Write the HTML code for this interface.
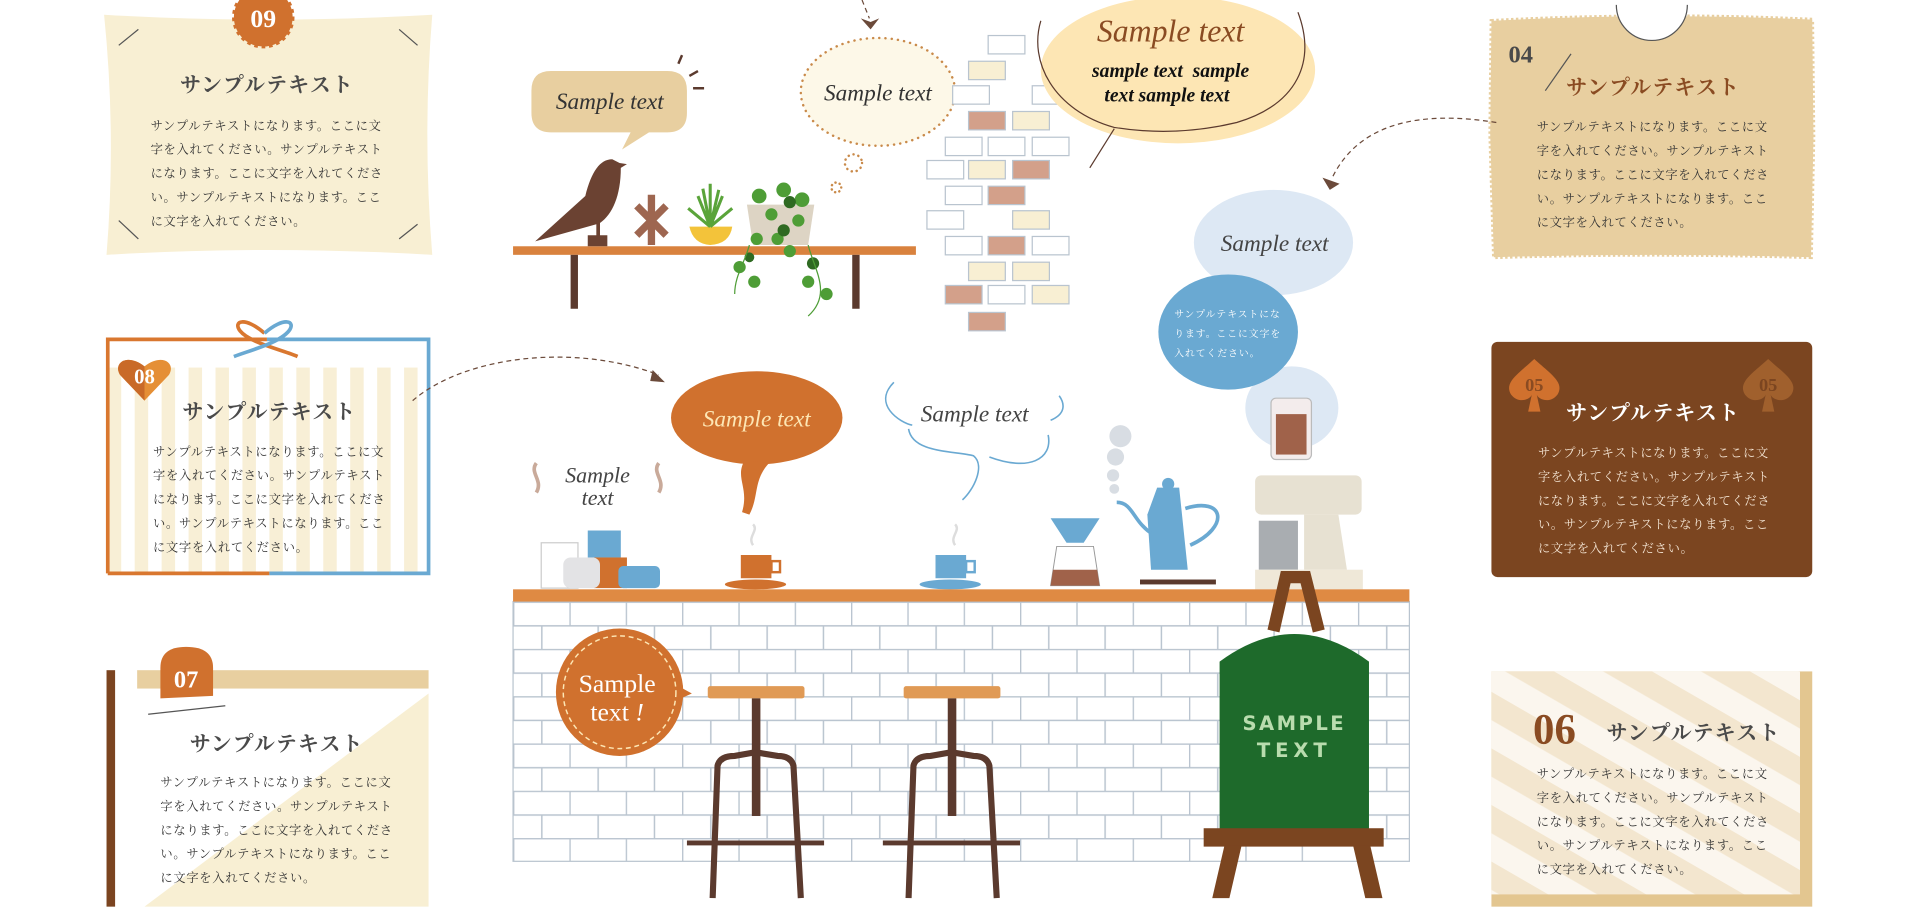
<!DOCTYPE html>
<html><head><meta charset="utf-8"><style>
html,body{margin:0;padding:0;background:#fff;width:1920px;height:914px;overflow:hidden}
svg{display:block}
.jp{font-family:"Liberation Serif","Noto Serif CJK SC","Noto Sans CJK JP",serif}
.it{font-family:"Liberation Serif",serif;font-style:italic}
</style></head><body>
<svg width="1920" height="914" viewBox="0 0 1568 746" preserveAspectRatio="none" xmlns="http://www.w3.org/2000/svg">
<defs>
<pattern id="brk" x="419" y="491" width="46" height="38.6" patternUnits="userSpaceOnUse">
<rect width="46" height="38.6" fill="#fff"/>
<path d="M0 0.5H46M0 19.8H46M0.5 0V19.3M23.5 19.3V38.6" stroke="#b9c4cf" stroke-width="1.2" fill="none"/>
</pattern>
<pattern id="str8" x="0" y="0" width="22" height="10" patternUnits="userSpaceOnUse">
<rect width="11" height="10" fill="#f8efd6"/>
</pattern>
<pattern id="diag" width="40" height="40" patternUnits="userSpaceOnUse" patternTransform="rotate(-60)">
<rect width="40" height="40" fill="#f3e6cf"/><rect width="20" height="40" fill="#fbf6ee"/>
</pattern>
</defs>

<!-- BOX 09 -->
<path d="M85 12 Q218 20 353 12 Q345 110 353 208 Q218 200 87 208 Q95 110 85 12Z" fill="#f8efd3"/>
<path d="M97 37L113 24M326 24L341 37M97 180L113 195M326 195L341 183" stroke="#555" stroke-width="1"/>
<circle cx="215" cy="14" r="24" fill="#d0712e" stroke="#d0712e" stroke-width="3" stroke-dasharray="3 3"/>
<text x="215" y="22" text-anchor="middle" font-family="Liberation Serif,serif" font-weight="bold" font-size="21" fill="#fff">09</text>
<text class="jp" x="218" y="75" text-anchor="middle" font-size="17" font-weight="bold" fill="#4a4a4a" letter-spacing="1">サンプルテキスト</text>
<g class="jp" font-size="10" fill="#333" letter-spacing="0.6">
<text x="123" y="106">サンプルテキストになります。ここに文</text>
<text x="123" y="125.5">字を入れてください。サンプルテキスト</text>
<text x="123" y="145">になります。ここに文字を入れてくださ</text>
<text x="123" y="164.5">い。サンプルテキストになります。ここ</text>
<text x="123" y="184">に文字を入れてください。</text>
</g>

<!-- BOX 08 -->
<rect x="88" y="300" width="262" height="168" fill="url(#str8)"/>
<rect x="88" y="277" width="262" height="22" fill="#fff"/>
<path d="M88 468V277H218" stroke="#d9772f" stroke-width="3" fill="none"/>
<path d="M88 468H220" stroke="#d9772f" stroke-width="3"/>
<path d="M218 277H350V468H220" stroke="#6aa9d2" stroke-width="3" fill="none"/>
<path d="M216 272C200 258 190 262 196 270C204 280 232 286 243 291" stroke="#d9772f" stroke-width="3" fill="none"/>
<path d="M216 272C232 258 242 262 236 270C228 280 204 286 191 291" stroke="#6aa9d2" stroke-width="3" fill="none"/>
<path d="M118 327L98 306C92 296 104 288 118 299C132 288 144 296 138 306Z" fill="#e58f36"/>
<path d="M118 327L98 306C92 296 104 288 118 299Z" fill="#c96a28"/>
<text x="118" y="313" text-anchor="middle" font-family="Liberation Serif,serif" font-weight="bold" font-size="17" fill="#fff">08</text>
<text class="jp" x="220" y="342" text-anchor="middle" font-size="17" font-weight="bold" fill="#4a4a4a" letter-spacing="1">サンプルテキスト</text>
<g class="jp" font-size="10" fill="#333" letter-spacing="0.6">
<text x="125" y="372">サンプルテキストになります。ここに文</text>
<text x="125" y="391.5">字を入れてください。サンプルテキスト</text>
<text x="125" y="411">になります。ここに文字を入れてくださ</text>
<text x="125" y="430.5">い。サンプルテキストになります。ここ</text>
<text x="125" y="450">に文字を入れてください。</text>
</g>

<!-- BOX 07 -->
<polygon points="350,566 350,740 118,740" fill="#f8efd3"/>
<rect x="87" y="547" width="7" height="193" fill="#7b4420"/>
<rect x="112" y="547" width="238" height="15" fill="#e8cfa0"/>
<path d="M131 570V545Q131 528 152 528Q174 528 174 545V568Z" fill="#d0712e"/>
<text x="152" y="561" text-anchor="middle" font-family="Liberation Serif,serif" font-weight="bold" font-size="20" fill="#fff">07</text>
<path d="M121 583L184 576" stroke="#555" stroke-width="1"/>
<text class="jp" x="226" y="613" text-anchor="middle" font-size="17" font-weight="bold" fill="#4a4a4a" letter-spacing="1">サンプルテキスト</text>
<g class="jp" font-size="10" fill="#333" letter-spacing="0.6">
<text x="131" y="642">サンプルテキストになります。ここに文</text>
<text x="131" y="661.5">字を入れてください。サンプルテキスト</text>
<text x="131" y="681">になります。ここに文字を入れてくださ</text>
<text x="131" y="700.5">い。サンプルテキストになります。ここ</text>
<text x="131" y="720">に文字を入れてください。</text>
</g>

<!-- BOX 04 -->
<path d="M1218 17Q1350 10 1480 16L1481 112L1479 210Q1350 206 1220 210L1217 110Z" fill="#e8cfa0" stroke="#e8cfa0" stroke-width="3" stroke-dasharray="2 2"/>
<path d="M1320 4A29 29 0 0 0 1378 4" stroke="#555" stroke-width="1" fill="#fff"/>
<text x="1232" y="51" font-family="Liberation Serif,serif" font-weight="bold" font-size="20" fill="#4a4a4a">04</text>
<path d="M1262 74L1283 44" stroke="#555" stroke-width="1"/>
<text class="jp" x="1350" y="77" text-anchor="middle" font-size="17" font-weight="bold" fill="#8a4b22" letter-spacing="1">サンプルテキスト</text>
<g class="jp" font-size="10" fill="#333" letter-spacing="0.6">
<text x="1255" y="107">サンプルテキストになります。ここに文</text>
<text x="1255" y="126.5">字を入れてください。サンプルテキスト</text>
<text x="1255" y="146">になります。ここに文字を入れてくださ</text>
<text x="1255" y="165.5">い。サンプルテキストになります。ここ</text>
<text x="1255" y="185">に文字を入れてください。</text>
</g>

<!-- BOX 05 -->
<rect x="1218" y="279" width="262" height="192" rx="5" fill="#7b4520"/>
<g fill="#d0712e"><path d="M1253 293C1240 305 1228 312 1234 322C1240 330 1250 326 1251 322L1248 336H1258L1255 322C1256 326 1266 330 1272 322C1278 312 1266 305 1253 293Z"/></g>
<g fill="#a0602d"><path d="M1444 293C1431 305 1419 312 1425 322C1431 330 1441 326 1442 322L1439 336H1449L1446 322C1447 326 1457 330 1463 322C1469 312 1457 305 1444 293Z"/></g>
<text x="1253" y="319" text-anchor="middle" font-family="Liberation Serif,serif" font-weight="bold" font-size="15" fill="#8a4b22">05</text>
<text x="1444" y="319" text-anchor="middle" font-family="Liberation Serif,serif" font-weight="bold" font-size="15" fill="#7b4520">05</text>
<text class="jp" x="1350" y="343" text-anchor="middle" font-size="17" font-weight="bold" fill="#fff" letter-spacing="1">サンプルテキスト</text>
<g class="jp" font-size="10" fill="#f5e6d5" letter-spacing="0.6">
<text x="1256" y="373">サンプルテキストになります。ここに文</text>
<text x="1256" y="392.5">字を入れてください。サンプルテキスト</text>
<text x="1256" y="412">になります。ここに文字を入れてくださ</text>
<text x="1256" y="431.5">い。サンプルテキストになります。ここ</text>
<text x="1256" y="451">に文字を入れてください。</text>
</g>

<!-- BOX 06 -->
<rect x="1218" y="548" width="262" height="192" fill="#e3c690"/>
<rect x="1218" y="548" width="252" height="182" fill="url(#diag)"/>
<text x="1252" y="607" font-family="Liberation Serif,serif" font-weight="bold" font-size="35" fill="#8a4b22">06</text>
<text class="jp" x="1312" y="604" font-size="17" font-weight="bold" fill="#4a4a4a" letter-spacing="1">サンプルテキスト</text>
<g class="jp" font-size="10" fill="#333" letter-spacing="0.6">
<text x="1255" y="635">サンプルテキストになります。ここに文</text>
<text x="1255" y="654.5">字を入れてください。サンプルテキスト</text>
<text x="1255" y="674">になります。ここに文字を入れてくださ</text>
<text x="1255" y="693.5">い。サンプルテキストになります。ここ</text>
<text x="1255" y="713">に文字を入れてください。</text>
</g>

<!-- dashed connectors -->
<path d="M337 327C380 290 470 280 538 306" stroke="#6b4a3a" stroke-width="1" stroke-dasharray="4 3" fill="none"/>
<path d="M533 302L543 312L531 311" fill="#6b4a3a"/>
<path d="M1222 100C1160 90 1110 100 1088 145" stroke="#6b4a3a" stroke-width="1" stroke-dasharray="4 3" fill="none"/>
<path d="M1080 145L1086 155L1094 150Z" fill="#6b4a3a"/>
<path d="M704 0L710 15" stroke="#6b4a3a" stroke-width="1" stroke-dasharray="4 3"/>
<path d="M703 15L711 24L718 15L711 18Z" fill="#6b4a3a"/>

<!-- shelf -->
<rect x="419" y="201" width="329" height="7" fill="#d9823e"/>
<rect x="466" y="208" width="6" height="44" fill="#5b3a2e"/>
<rect x="696" y="208" width="6" height="44" fill="#5b3a2e"/>
<path d="M434 58H545Q561 58 561 74V92Q561 108 545 108H530L508 122L515 108H450Q434 108 434 92V74Q434 58 450 58Z" fill="#e8cfa0"/>
<text class="it" x="498" y="89" text-anchor="middle" font-size="19" fill="#333">Sample text</text>
<path d="M554 52L557 45M563 62L570 58M566 72L575 72" stroke="#5b3a2e" stroke-width="2"/>
<path d="M437 197L478 160C483 140 490 130 500 130L506 133L512 134L507 137C507 160 500 175 490 182V192H496V201H480V192H487V183Z" fill="#6b4232"/>
<g stroke="#9e6650" stroke-width="6"><path d="M532 159V200M520 168L544 192M544 168L520 192"/></g>
<path d="M563 185H598Q596 199 580 200Q566 199 563 185Z" fill="#f3c33a"/>
<g stroke="#5aa43a" stroke-width="2.5"><path d="M580 185L570 160M580 185L580 150M580 185L590 160M580 185L562 170M580 185L598 170M580 185L574 154M580 185L587 155"/></g>
<path d="M610 167H665L660 200H615Z" fill="#ddd4c4"/>
<g fill="#4e9d36"><circle cx="620" cy="160" r="6"/><circle cx="640" cy="155" r="6"/><circle cx="655" cy="163" r="6"/><circle cx="630" cy="175" r="5"/><circle cx="652" cy="180" r="5"/><circle cx="618" cy="195" r="5"/><circle cx="604" cy="218" r="5"/><circle cx="616" cy="230" r="5"/><circle cx="645" cy="205" r="5"/><circle cx="660" cy="230" r="5"/><circle cx="675" cy="240" r="5"/><circle cx="635" cy="195" r="5"/></g>
<g fill="#2f6a22"><circle cx="645" cy="165" r="5"/><circle cx="640" cy="188" r="5"/><circle cx="664" cy="215" r="5"/><circle cx="612" cy="210" r="4"/></g>
<path d="M612 200C608 215 600 225 600 240M660 200C665 220 680 240 660 258" stroke="#4e9d36" stroke-width="1" fill="none"/>

<!-- dotted bubble -->
<ellipse cx="717" cy="75" rx="63" ry="44" fill="#fdf8e8" stroke="#c98a4a" stroke-width="2" stroke-dasharray="0.1 5" stroke-linecap="round"/>
<circle cx="697" cy="133" r="7" fill="none" stroke="#c98a4a" stroke-width="2" stroke-dasharray="0.1 4" stroke-linecap="round"/>
<circle cx="683" cy="153" r="4" fill="none" stroke="#c98a4a" stroke-width="2" stroke-dasharray="0.1 3.5" stroke-linecap="round"/>
<text class="it" x="717" y="82" text-anchor="middle" font-size="19" fill="#333">Sample text</text>

<!-- bricks -->
<g stroke="#b9c4cf" stroke-width="1">
<rect x="807" y="29" width="30" height="15" fill="#fff"/>
<rect x="791" y="50" width="30" height="15" fill="#f8efd3"/>
<rect x="778" y="70" width="30" height="15" fill="#fff"/><rect x="843" y="70" width="30" height="15" fill="#fff"/>
<rect x="791" y="91" width="30" height="15" fill="#d3a08a"/><rect x="827" y="91" width="30" height="15" fill="#f8efd3"/>
<rect x="772" y="112" width="30" height="15" fill="#fff"/><rect x="807" y="112" width="30" height="15" fill="#fff"/><rect x="843" y="112" width="30" height="15" fill="#fff"/>
<rect x="757" y="131" width="30" height="15" fill="#fff"/><rect x="791" y="131" width="30" height="15" fill="#f8efd3"/><rect x="827" y="131" width="30" height="15" fill="#d3a08a"/>
<rect x="772" y="152" width="30" height="15" fill="#fff"/><rect x="807" y="152" width="30" height="15" fill="#d3a08a"/>
<rect x="757" y="172" width="30" height="15" fill="#fff"/><rect x="827" y="172" width="30" height="15" fill="#f8efd3"/>
<rect x="772" y="193" width="30" height="15" fill="#fff"/><rect x="807" y="193" width="30" height="15" fill="#d3a08a"/><rect x="843" y="193" width="30" height="15" fill="#fff"/>
<rect x="791" y="214" width="30" height="15" fill="#f8efd3"/><rect x="827" y="214" width="30" height="15" fill="#f8efd3"/>
<rect x="772" y="233" width="30" height="15" fill="#d3a08a"/><rect x="807" y="233" width="30" height="15" fill="#fff"/><rect x="843" y="233" width="30" height="15" fill="#f8efd3"/>
<rect x="791" y="255" width="30" height="15" fill="#d3a08a"/>
</g>

<!-- big bubble -->
<ellipse cx="962" cy="57" rx="112" ry="60" fill="#fde6b4"/>
<path d="M890 137L910 105" stroke="#5b3a2e" stroke-width="1"/>
<path d="M850 17C840 50 860 90 910 104Q960 112 1010 100C1060 85 1075 50 1060 10" stroke="#5b3a2e" stroke-width="1" fill="none"/>
<text class="it" x="956" y="34" text-anchor="middle" font-size="26" fill="#8a4b22">Sample text</text>
<text class="it" x="956" y="63" text-anchor="middle" font-size="16" font-weight="bold" fill="#111" xml:space="preserve" style="white-space:pre">sample text  sample</text>
<text class="it" x="953" y="83" text-anchor="middle" font-size="16" font-weight="bold" fill="#111">text sample text</text>

<!-- blue bubbles -->
<ellipse cx="1040" cy="198" rx="65" ry="43" fill="#dde8f4"/>
<text class="it" x="1041" y="205" text-anchor="middle" font-size="19" fill="#444">Sample text</text>
<ellipse cx="1055" cy="333" rx="38" ry="34" fill="#dde8f4"/>
<ellipse cx="1003" cy="271" rx="57" ry="47" fill="#6aa9d2"/>
<g class="jp" font-size="8" fill="#fff" letter-spacing="0.8">
<text x="959" y="259">サンプルテキストにな</text>
<text x="959" y="275">ります。ここに文字を</text>
<text x="959" y="291">入れてください。</text>
</g>

<!-- orange bubble -->
<ellipse cx="618" cy="341" rx="70" ry="38" fill="#d0712e"/>
<path d="M608 376C600 390 612 398 606 418L612 420C620 405 615 392 628 378Z" fill="#d0712e"/>
<text class="it" x="618" y="348" text-anchor="middle" font-size="19" fill="#fde6b4">Sample text</text>

<text class="it" x="488" y="394" text-anchor="middle" font-size="18" fill="#444">Sample</text>
<text class="it" x="488" y="412" text-anchor="middle" font-size="18" fill="#444">text</text>
<path d="M438 378C432 386 444 392 438 402M538 378C532 386 544 392 538 402" stroke="#c9aa9a" stroke-width="3" fill="none"/>

<!-- cloud outline bubble -->
<path d="M730 312C712 330 735 345 745 347M742 350C745 370 780 368 795 372C805 380 795 400 786 408M808 373C840 385 860 375 856 355M858 343C870 338 870 330 865 323" stroke="#6aa9d2" stroke-width="1.3" fill="none"/>
<text class="it" x="796" y="344" text-anchor="middle" font-size="19" fill="#444">Sample text</text>

<!-- counter items -->
<rect x="442" y="443" width="30" height="37" fill="#fff" stroke="#ccc"/>
<rect x="480" y="433" width="27" height="22" fill="#6aa9d2"/>
<rect x="485" y="455" width="27" height="25" fill="#d0712e"/>
<rect x="460" y="455" width="30" height="25" rx="6" fill="#e3e3e5"/>
<rect x="505" y="462" width="34" height="18" rx="4" fill="#6aa9d2"/>
<path d="M605 453H630V472H605Z" fill="#d0712e"/><rect x="630" y="458" width="7" height="9" fill="none" stroke="#d0712e" stroke-width="2"/>
<ellipse cx="617" cy="477" rx="25" ry="4" fill="#d0712e"/>
<path d="M764 453H789V472H764Z" fill="#6aa9d2"/><rect x="789" y="458" width="7" height="9" fill="none" stroke="#6aa9d2" stroke-width="2"/>
<ellipse cx="776" cy="477" rx="25" ry="4" fill="#6aa9d2"/>
<path d="M615 445C610 438 620 433 615 428M780 445C775 438 785 433 780 428" stroke="#ddd" stroke-width="2" fill="none"/>
<path d="M858 423H898L885 443H871Z" fill="#6aa9d2"/>
<path d="M863 446H893L898 478H858Z" fill="#fff" stroke="#999" stroke-width="0.8"/>
<path d="M860 465H896L898 478H858Z" fill="#a0624a"/>
<path d="M937 420L945 398H963L970 465H940Z" fill="#6aa9d2"/>
<circle cx="954" cy="395" r="5" fill="#6aa9d2"/>
<path d="M940 435C925 425 925 410 912 410" stroke="#6aa9d2" stroke-width="3" fill="none"/>
<path d="M968 415C1000 405 1005 430 972 445" stroke="#6aa9d2" stroke-width="3" fill="none"/>
<rect x="931" y="473" width="62" height="4" fill="#5b3a2e"/>
<g fill="#d8dde3"><circle cx="915" cy="356" r="9"/><circle cx="911" cy="373" r="7"/><circle cx="909" cy="388" r="5"/><circle cx="910" cy="399" r="4"/></g>
<rect x="1038" y="325" width="33" height="50" rx="4" fill="#f3ecec" stroke="#bbb"/>
<rect x="1042" y="338" width="25" height="33" fill="#a0624a"/>
<rect x="1025" y="388" width="87" height="32" rx="5" fill="#e7e1d2"/>
<path d="M1065 420H1093L1100 465H1065Z" fill="#e7e1d2"/>
<rect x="1028" y="425" width="32" height="40" fill="#a9adb1"/>
<rect x="1025" y="465" width="88" height="16" fill="#efe8d8"/>

<!-- counter -->
<rect x="419" y="491" width="732" height="212" fill="url(#brk)" stroke="#b9c4cf"/>
<rect x="419" y="481" width="732" height="10" fill="#df8a43"/>

<!-- orange circle badge -->
<path d="M545 555L565 566L545 575Z" fill="#d0712e"/>
<circle cx="506" cy="565" r="52" fill="#d0712e"/>
<circle cx="506" cy="565" r="46" fill="none" stroke="#fde6b4" stroke-width="1.2" stroke-dasharray="4 3"/>
<text x="504" y="565" text-anchor="middle" font-family="Liberation Serif,serif" font-size="21" fill="#fff">Sample</text>
<text x="504" y="588" text-anchor="middle" font-family="Liberation Serif,serif" font-size="21" fill="#fff">text <tspan font-style="italic">!</tspan></text>

<!-- stools -->
<g id="stool">
<rect x="578" y="560" width="79" height="10" rx="2" fill="#e09a55"/>
<rect x="614" y="570" width="7" height="96" fill="#5b3a2e"/>
<path d="M582 733L586 625Q588 617 600 617L617 614L635 617Q646 617 648 625L654 733" stroke="#5b3a2e" stroke-width="5" fill="none"/>
<rect x="561" y="686" width="112" height="4" fill="#5b3a2e"/>
</g>
<use href="#stool" x="160"/>

<!-- easel sign -->
<path d="M1040 515L1050 471H1066L1077 515" stroke="#7b4520" stroke-width="10" fill="none"/>
<path d="M996 540Q1057 495 1118 540V677H996Z" fill="#1e6a2b"/>
<rect x="983" y="676" width="147" height="15" fill="#7b4520"/>
<path d="M1000 690L990 733H1004L1014 690ZM1105 690L1115 733H1129L1119 690Z" fill="#7b4520"/>
<text x="1057" y="596" text-anchor="middle" font-family="DejaVu Sans,sans-serif" font-weight="bold" font-size="16" fill="#b9dcae" letter-spacing="2">SAMPLE</text>
<text x="1057" y="618" text-anchor="middle" font-family="DejaVu Sans,sans-serif" font-weight="bold" font-size="16" fill="#b9dcae" letter-spacing="4">TEXT</text>
</svg>
</body></html>
